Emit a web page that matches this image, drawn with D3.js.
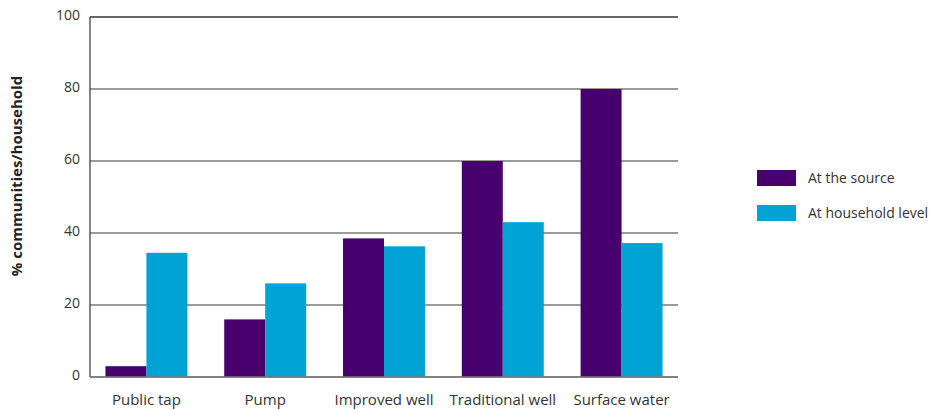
<!DOCTYPE html>
<html>
<head>
<meta charset="utf-8">
<script src="https://cdn.jsdelivr.net/npm/d3@7"></script>
<style>
  body { margin: 0; background: #fff; }
  svg { display: block; font-family: "Open Sans", "Noto Sans", sans-serif; }
</style>
</head>
<body>
<div id="chart"></div>
<script>
const categories = ['Public tap', 'Pump', 'Improved well', 'Traditional well', 'Surface water'];
const seriesNames = ['At the source', 'At household level'];
const atSource = [3, 16, 38.5, 60, 80];
const atHousehold = [34.5, 26, 36.3, 43, 37.2];
const yTicks = [0, 20, 40, 60, 80, 100];
const colors = ['#48006e', '#00a3d4'];

const width = 934;
const height = 410;
const margin = { top: 17, right: 256, bottom: 33, left: 90 };

const svg = d3.select('#chart').append('svg')
  .attr('width', width)
  .attr('height', height);

const x = d3.scaleBand()
  .domain(categories)
  .range([margin.left, width - margin.right])
  .paddingInner(0.31)
  .paddingOuter(0.13);

const xSeries = d3.scaleBand()
  .domain(seriesNames)
  .range([0, x.bandwidth()]);

const y = d3.scaleLinear()
  .domain([0, 100])
  .range([height - margin.bottom, margin.top]);

// gridlines
svg.append('g')
  .selectAll('line')
  .data(yTicks)
  .join('line')
  .attr('x1', margin.left)
  .attr('x2', width - margin.right)
  .attr('y1', d => y(d))
  .attr('y2', d => y(d))
  .attr('stroke', d => d === 100 ? '#333' : '#7a7a7a')
  .attr('stroke-width', 1.3);

// left axis line
svg.append('line')
  .attr('x1', margin.left)
  .attr('x2', margin.left)
  .attr('y1', y(100))
  .attr('y2', y(0))
  .attr('stroke', '#333')
  .attr('stroke-width', 1.2);

const rows = categories.map((c, i) => ({ category: c, values: [atSource[i], atHousehold[i]] }));

svg.append('g')
  .selectAll('g')
  .data(rows)
  .join('g')
  .attr('transform', d => `translate(${x(d.category)},0)`)
  .selectAll('rect')
  .data(d => d.values.map((v, j) => ({ series: seriesNames[j], value: v, color: colors[j] })))
  .join('rect')
  .attr('x', d => xSeries(d.series))
  .attr('width', xSeries.bandwidth())
  .attr('y', d => y(d.value))
  .attr('height', d => y(0) - y(d.value))
  .attr('fill', d => d.color);

// redraw baseline on top of bars
svg.append('line')
  .attr('x1', margin.left)
  .attr('x2', width - margin.right)
  .attr('y1', y(0))
  .attr('y2', y(0))
  .attr('stroke', '#7a7a7a')
  .attr('stroke-width', 1.3);

// y tick labels
svg.append('g')
  .selectAll('text')
  .data(yTicks)
  .join('text')
  .attr('x', margin.left - 10)
  .attr('y', d => y(d) - 2)
  .attr('dy', '0.35em')
  .attr('text-anchor', 'end')
  .attr('font-size', 14)
  .attr('fill', '#333')
  .text(d => d);

// x labels
svg.append('g')
  .selectAll('text')
  .data(categories)
  .join('text')
  .attr('x', d => x(d) + x.bandwidth() / 2)
  .attr('y', height - 5)
  .attr('text-anchor', 'middle')
  .attr('font-size', 15)
  .attr('fill', '#333')
  .text(d => d);

// y axis title
svg.append('text')
  .attr('transform', 'translate(22,176) rotate(-90)')
  .attr('text-anchor', 'middle')
  .attr('font-size', 15)
  .attr('font-weight', 'bold')
  .attr('fill', '#222')
  .text('% communities/household');

// legend
const legend = svg.append('g')
  .attr('transform', 'translate(757,170)');

const legendItem = legend.selectAll('g')
  .data(seriesNames)
  .join('g')
  .attr('transform', (d, i) => `translate(0,${i * 35})`);

legendItem.append('rect')
  .attr('width', 39)
  .attr('height', 16)
  .attr('fill', (d, i) => colors[i]);

legendItem.append('text')
  .attr('x', 51)
  .attr('y', 8)
  .attr('dy', '0.35em')
  .attr('font-size', 14)
  .attr('fill', '#333')
  .text(d => d);
</script>
</body>
</html>
